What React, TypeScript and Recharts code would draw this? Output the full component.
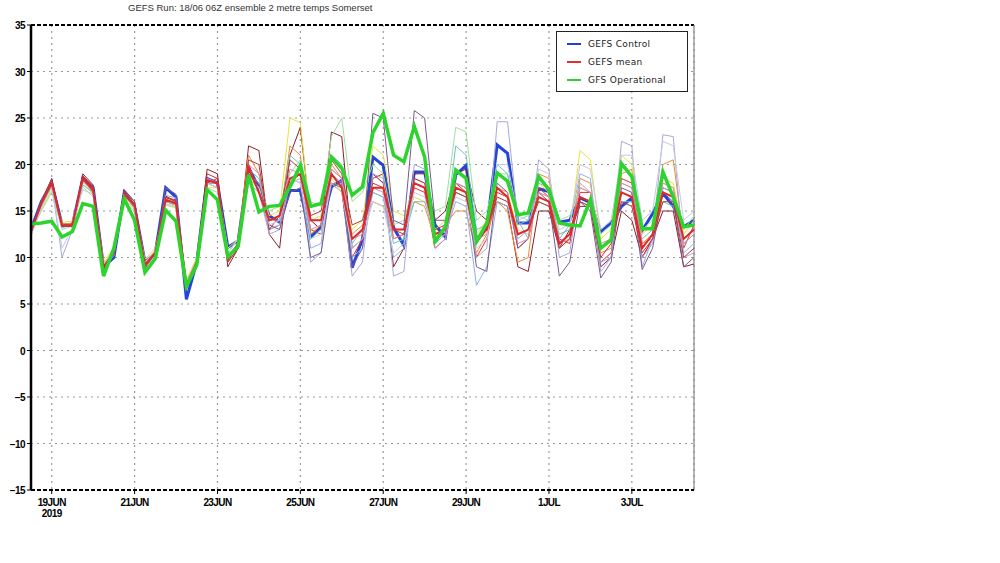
import React from "react";
import { LineChart, Line, XAxis, YAxis, CartesianGrid, ReferenceLine } from "recharts";

// 6-hourly steps from 18 Jun 12Z (index 0) to 4 Jul 12Z (index 64)
const dateTicks = [2, 10, 18, 26, 34, 42, 50, 58];
const dateLabels = ["19JUN", "21JUN", "23JUN", "25JUN", "27JUN", "29JUN", "1JUL", "3JUL"];
const tempTicks = [-15, -10, -5, 0, 5, 10, 15, 20, 25, 30, 35];

const gfsOperational = [
  13.6, 13.7, 13.9, 12.2, 12.8, 15.8, 15.5, 8.0, 11.0, 16.3,
  14.0, 8.4, 9.9, 15.1, 13.9, 6.9, 9.2, 17.3, 16.2, 10.1,
  11.2, 18.9, 14.9, 15.5, 15.6, 17.6, 19.9, 15.5, 15.8, 20.8,
  19.6, 16.7, 17.6, 23.4, 25.5, 21.0, 20.3, 24.1, 20.8, 11.7,
  13.3, 19.4, 18.5, 11.7, 13.7, 19.1, 18.2, 14.6, 14.8, 18.7,
  17.3, 13.7, 13.5, 13.4, 16.2, 11.0, 11.9, 20.1, 18.7, 13.1,
  13.1, 19.2, 16.5, 13.3, 13.5,
];

const gefsControl = [
  13.0, 16.0, 18.0, 13.5, 13.5, 18.5, 17.5, 9.0, 10.0, 17.0,
  15.5, 9.5, 10.5, 17.5, 16.5, 5.5, 9.5, 18.5, 18.0, 11.1,
  11.8, 19.7, 17.5, 14.5, 13.8, 17.2, 17.2, 12.2, 13.3, 17.6,
  18.3, 8.9, 12.0, 20.8, 19.9, 13.2, 11.3, 19.2, 19.2, 13.5,
  12.2, 18.9, 19.9, 11.9, 13.3, 22.1, 21.2, 13.7, 13.7, 17.4,
  17.1, 13.8, 14.0, 16.4, 15.9, 12.8, 13.7, 15.5, 16.4, 12.9,
  14.7, 16.9, 15.5, 13.3, 14.0,
];

const gefsMean = [
  12.8, 15.8, 18.0, 13.4, 13.5, 18.5, 17.2, 9.0, 10.5, 16.8,
  15.6, 9.2, 10.5, 16.2, 15.8, 7.0, 9.5, 18.3, 18.0, 9.8,
  11.5, 19.6, 17.0, 14.0, 14.5, 18.5, 19.0, 14.0, 14.0, 19.0,
  17.5, 12.0, 13.0, 17.5, 17.5, 13.0, 13.0, 18.0, 17.5, 12.5,
  13.0, 17.5, 17.0, 12.0, 13.0, 17.5, 16.5, 12.5, 13.0, 16.5,
  16.0, 11.5, 12.5, 16.5, 16.0, 11.0, 12.0, 17.0, 16.5, 11.0,
  12.5, 17.0, 16.5, 12.0, 13.0,
];

const m01 = [
  12.5, 16.0, 18.5, 13.5, 13.3, 19.0, 17.8, 8.8, 10.3, 17.3, 16.0, 9.0, 10.3, 16.6, 16.0, 7.2, 9.3,
  19.5, 19.0, 9.0, 11.0, 22.0, 21.5, 12.5, 11.0, 21.0, 24.0, 14.0, 13.0, 23.5, 23.0, 11.0, 12.0,
  19.0, 18.0, 9.0, 11.0, 19.0, 19.0, 14.0, 15.0, 19.0, 19.5, 15.0, 14.0, 16.0, 15.5, 9.0, 8.5,
  15.0, 15.0, 11.0, 13.0, 15.5, 15.5, 9.0, 10.0, 15.0, 14.0, 10.0, 12.0, 15.0, 15.0, 9.0, 9.3,
];
const m02 = [
  12.8, 15.8, 18.2, 13.3, 13.6, 18.6, 17.4, 8.6, 10.6, 17.0, 15.8, 8.8, 10.4, 16.4, 16.2, 7.0, 9.6,
  18.0, 18.5, 10.0, 11.5, 20.0, 17.0, 13.0, 13.5, 18.0, 19.0, 13.0, 12.5, 18.0, 17.0, 10.0, 12.0,
  18.5, 19.0, 12.0, 12.5, 17.5, 17.0, 11.0, 12.0, 18.0, 17.0, 10.0, 12.0, 17.0, 16.5, 11.0, 12.0,
  17.5, 16.5, 12.0, 11.5, 17.0, 17.0, 9.5, 10.5, 18.5, 18.0, 10.0, 12.0, 17.5, 17.0, 11.0, 13.5,
];
const m03 = [
  13.0, 15.5, 17.8, 13.6, 13.7, 18.3, 17.0, 9.3, 10.8, 16.6, 15.4, 9.5, 10.7, 16.0, 15.6, 7.4, 9.8,
  18.5, 18.0, 10.5, 12.0, 21.0, 19.0, 14.0, 14.0, 22.0, 21.0, 12.5, 13.5, 20.0, 18.5, 12.5, 13.5,
  16.0, 15.5, 13.0, 13.0, 16.0, 15.5, 12.0, 13.5, 15.0, 15.0, 10.5, 12.5, 16.0, 15.0, 9.5, 10.0,
  19.0, 18.5, 11.0, 12.0, 18.5, 18.0, 10.5, 11.0, 19.0, 19.5, 11.5, 12.5, 20.0, 20.5, 12.0, 13.0,
];
const m04 = [
  13.2, 15.2, 17.2, 13.8, 13.9, 18.0, 16.8, 9.6, 11.0, 16.3, 15.2, 9.8, 11.0, 15.8, 15.3, 7.6, 10.0,
  17.5, 17.5, 11.0, 12.0, 19.0, 18.0, 14.5, 15.0, 25.0, 24.5, 14.0, 14.5, 18.5, 17.0, 13.0, 14.0,
  22.0, 21.0, 15.0, 14.5, 16.5, 16.0, 13.0, 14.0, 17.0, 16.5, 12.5, 14.0, 17.5, 17.0, 13.0, 12.5,
  18.0, 17.0, 12.5, 13.0, 21.5, 20.5, 12.0, 13.0, 21.0, 20.0, 12.5, 13.5, 18.5, 18.0, 12.5, 14.0,
];
const m05 = [
  12.6, 15.0, 17.0, 13.0, 13.4, 17.3, 16.8, 9.2, 10.6, 16.0, 15.0, 9.4, 10.6, 15.6, 15.4, 7.2, 9.6,
  17.5, 17.0, 10.5, 12.0, 18.5, 17.5, 15.0, 15.5, 19.0, 20.5, 16.0, 15.5, 23.0, 25.0, 16.0, 17.0,
  20.0, 19.0, 13.5, 14.0, 18.0, 17.5, 15.0, 15.5, 24.0, 23.5, 14.0, 15.0, 19.0, 19.0, 14.0, 14.5,
  17.0, 16.5, 14.0, 14.5, 17.5, 17.0, 12.5, 13.5, 17.0, 16.5, 13.0, 14.0, 18.0, 17.5, 13.0, 14.5,
];
const m06 = [
  12.9, 15.6, 17.6, 13.5, 13.4, 17.8, 17.0, 9.1, 10.4, 16.5, 15.5, 9.2, 10.5, 16.0, 15.7, 7.1, 9.5,
  18.0, 17.5, 10.0, 11.0, 19.5, 18.5, 14.0, 14.5, 21.0, 20.0, 12.0, 13.0, 21.0, 20.0, 11.5, 13.0,
  17.0, 16.5, 11.5, 12.0, 16.0, 16.0, 12.5, 13.0, 22.0, 21.0, 13.0, 13.5, 20.0, 19.0, 13.5, 14.0,
  16.0, 15.5, 12.5, 13.0, 16.0, 15.5, 11.0, 12.0, 16.0, 16.0, 12.0, 13.0, 16.0, 15.5, 11.5, 12.5,
];
const m07 = [
  12.7, 15.9, 18.1, 13.2, 13.5, 18.4, 17.3, 8.9, 10.5, 16.9, 15.7, 9.1, 10.4, 16.7, 16.4, 6.8, 9.4,
  18.5, 18.0, 10.0, 11.0, 19.0, 17.5, 13.0, 13.5, 18.5, 18.0, 11.0, 11.5, 19.5, 18.5, 10.0, 11.0,
  17.0, 16.5, 10.0, 11.0, 18.0, 17.5, 11.5, 12.5, 16.0, 15.5, 7.0, 9.0, 16.0, 15.5, 12.0, 13.0,
  18.0, 17.5, 12.0, 13.5, 19.0, 18.5, 9.5, 10.0, 18.0, 17.5, 10.0, 11.5, 17.5, 17.0, 10.5, 11.5,
];
const m08 = [
  12.3, 15.7, 17.9, 10.0, 13.0, 18.2, 17.1, 9.0, 10.2, 16.8, 15.6, 9.0, 10.2, 16.3, 15.9, 6.6, 9.2,
  18.0, 17.5, 10.0, 11.5, 18.0, 17.0, 12.5, 13.0, 18.0, 18.5, 9.5, 10.5, 19.0, 18.0, 8.0, 9.5,
  19.0, 18.5, 8.0, 8.5, 20.0, 19.5, 11.0, 12.0, 17.0, 16.5, 10.0, 11.0, 24.6, 24.6, 14.0, 12.0,
  20.5, 19.5, 10.0, 10.5, 18.0, 17.0, 8.5, 10.0, 22.5, 22.0, 9.0, 12.0, 23.2, 23.0, 10.0, 10.5,
];
const m09 = [
  12.6, 16.1, 18.4, 13.5, 13.6, 18.8, 17.6, 8.7, 10.4, 17.2, 16.0, 9.0, 10.4, 17.5, 16.8, 6.5, 9.3,
  18.0, 18.0, 9.5, 11.0, 19.0, 18.0, 13.5, 13.0, 17.0, 17.5, 10.0, 10.5, 18.0, 17.5, 9.0, 11.0,
  25.5, 25.0, 14.0, 13.5, 25.8, 25.0, 14.0, 14.0, 18.0, 17.5, 9.0, 8.5, 18.0, 17.0, 11.0, 12.0,
  17.0, 16.0, 8.0, 9.5, 16.0, 15.0, 7.8, 9.5, 17.5, 17.0, 8.7, 11.0, 17.0, 16.0, 9.0, 10.0,
];
const m10 = [
  12.8, 15.7, 18.0, 13.4, 13.5, 18.5, 17.3, 9.0, 10.5, 16.8, 15.6, 9.2, 10.5, 16.3, 15.9, 7.0, 9.5,
  18.5, 18.0, 10.0, 11.5, 20.0, 19.0, 14.0, 14.0, 19.5, 19.0, 13.0, 13.5, 19.5, 18.5, 12.0, 12.5,
  17.5, 17.0, 12.0, 12.5, 18.5, 18.0, 12.0, 12.5, 18.0, 17.5, 12.0, 12.5, 17.5, 17.0, 11.5, 12.0,
  17.0, 16.5, 11.5, 12.0, 17.5, 17.0, 11.5, 12.0, 18.0, 17.5, 11.5, 12.0, 18.0, 17.5, 11.5, 12.5,
];
const m11 = [
  12.6, 16.0, 18.3, 13.4, 13.3, 18.8, 17.5, 8.9, 10.4, 17.0, 15.8, 9.1, 10.4, 16.5, 16.0, 7.0, 9.4,
  19.0, 18.5, 9.5, 11.0, 20.5, 20.0, 13.0, 14.5, 20.5, 19.5, 14.5, 15.0, 20.5, 19.0, 13.5, 14.0,
  18.0, 17.5, 13.0, 12.5, 18.5, 18.0, 13.0, 13.5, 17.0, 16.5, 11.5, 13.0, 16.5, 16.0, 12.5, 13.0,
  16.0, 15.5, 11.0, 12.0, 16.0, 15.5, 10.0, 11.5, 16.0, 15.5, 10.5, 12.0, 16.0, 16.0, 10.0, 11.0,
];
const m12 = [
  12.4, 15.3, 17.5, 11.0, 13.2, 17.6, 16.5, 9.3, 10.8, 16.2, 15.3, 9.5, 10.8, 15.8, 15.5, 7.3, 9.8,
  18.0, 17.5, 10.5, 12.0, 18.5, 17.5, 13.5, 14.0, 18.5, 18.0, 12.0, 12.5, 18.0, 17.0, 11.0, 12.0,
  16.0, 15.5, 10.5, 11.5, 17.0, 16.5, 12.0, 13.0, 16.5, 16.0, 11.0, 12.0, 20.0, 20.0, 14.5, 14.0,
  19.5, 19.0, 13.0, 13.5, 20.0, 19.5, 13.0, 14.0, 21.0, 21.0, 14.0, 15.0, 22.5, 22.0, 14.0, 15.0,
];

const members = [
  { key: "m01", color: "#8b1c2c", values: m01 },
  { key: "m02", color: "#e52a2a", values: m02 },
  { key: "m03", color: "#f08a30", values: m03 },
  { key: "m04", color: "#e6e040", values: m04 },
  { key: "m05", color: "#9ee09a", values: m05 },
  { key: "m06", color: "#6cc4c0", values: m06 },
  { key: "m07", color: "#8fb2e8", values: m07 },
  { key: "m08", color: "#a8a8d6", values: m08 },
  { key: "m09", color: "#7a5a8e", values: m09 },
  { key: "m10", color: "#e486a6", values: m10 },
  { key: "m11", color: "#b43838", values: m11 },
  { key: "m12", color: "#c4cae2", values: m12 },
];

const chartData = gfsOperational.map((op, i) => {
  const row: Record<string, number> = { t: i, op, ctl: gefsControl[i], mean: gefsMean[i] };
  members.forEach((m) => {
    row[m.key] = m.values[i];
  });
  return row;
});

const tickFont = { fontFamily: "'Liberation Sans', Arial, sans-serif", fontWeight: 700, fontSize: 10, fill: "#000" };

function DateTick(props: any) {
  const { x, y, payload } = props;
  const idx = dateTicks.indexOf(payload.value);
  return (
    <g transform={`translate(${x},${y})`}>
      <text x={0} y={10} textAnchor="middle" style={{ ...tickFont, letterSpacing: -0.6 }}>
        {dateLabels[idx]}
      </text>
      {idx === 0 && (
        <text x={0} y={21} textAnchor="middle" style={{ ...tickFont, letterSpacing: -0.6 }}>
          2019
        </text>
      )}
    </g>
  );
}

function TempTick(props: any) {
  const { x, y, payload } = props;
  const label = payload.value < 0 ? `\u2212${Math.abs(payload.value)}` : `${payload.value}`;
  return (
    <text x={x} y={y + 4} textAnchor="end" style={{ ...tickFont, letterSpacing: -0.6 }}>
      {label}
    </text>
  );
}

const legendItems = [
  { label: "GEFS Control", color: "#2040d0" },
  { label: "GEFS mean", color: "#e03030" },
  { label: "GFS Operational", color: "#30d030" },
];

export default function App() {
  return (
    <div style={{ position: "fixed", left: 0, top: 0, width: 1000, height: 563, background: "#fff" }}>
      <div
        style={{
          position: "absolute",
          left: 128,
          top: 2,
          fontFamily: "'Liberation Sans', Arial, sans-serif",
          fontSize: 9.5,
          color: "#333",
          letterSpacing: 0,
          whiteSpace: "nowrap",
        }}
      >
        GEFS Run: 18/06 06Z ensemble 2 metre temps Somerset
      </div>
      <LineChart width={1000} height={563} data={chartData} margin={{ top: 25, right: 306, bottom: 43, left: 1 }}>
        <CartesianGrid stroke="#999" strokeDasharray="2 4" strokeWidth={1.2} />
        <XAxis
          dataKey="t"
          type="number"
          domain={[0, 64]}
          ticks={dateTicks}
          tick={<DateTick />}
          tickLine={{ stroke: "#000" }}
          tickSize={4}
          axisLine={{ stroke: "#000", strokeWidth: 2, strokeDasharray: "4 2" }}
          height={30}
          interval={0}
        />
        <YAxis
          type="number"
          domain={[-15, 35]}
          ticks={tempTicks}
          tick={<TempTick />}
          tickLine={{ stroke: "#000" }}
          tickSize={4}
          axisLine={{ stroke: "#000", strokeWidth: 2.5 }}
          width={30}
          interval={0}
          allowDataOverflow
        />
        <ReferenceLine y={35} stroke="#000" strokeWidth={2} strokeDasharray="4 2" />
        <ReferenceLine x={64} stroke="#888" strokeWidth={1.2} />
        <Line dataKey="ctl" stroke="#2446d8" strokeWidth={3} dot={false} isAnimationActive={false} />
        {members.map((m) => (
          <Line
            key={m.key}
            dataKey={m.key}
            stroke={m.color}
            strokeWidth={1}
            dot={false}
            isAnimationActive={false}
          />
        ))}
        <Line dataKey="mean" stroke="#e02828" strokeWidth={2} dot={false} isAnimationActive={false} />
        <Line dataKey="op" stroke="#2ed42e" strokeWidth={3.5} dot={false} isAnimationActive={false} />
      </LineChart>
      <div
        style={{
          position: "absolute",
          left: 556,
          top: 31,
          width: 132,
          height: 61,
          border: "1.5px solid #222",
          background: "#fff",
          boxSizing: "border-box",
          paddingTop: 3,
          fontFamily: "'DejaVu Sans', sans-serif",
          fontSize: 9,
          color: "#222",
        }}
      >
        {legendItems.map((it) => (
          <div key={it.label} style={{ display: "flex", alignItems: "center", height: 18 }}>
            <span style={{ display: "inline-block", width: 14, height: 2, background: it.color, marginLeft: 10, marginRight: 7 }} />
            <span style={{ letterSpacing: 0.3 }}>{it.label}</span>
          </div>
        ))}
      </div>
    </div>
  );
}
